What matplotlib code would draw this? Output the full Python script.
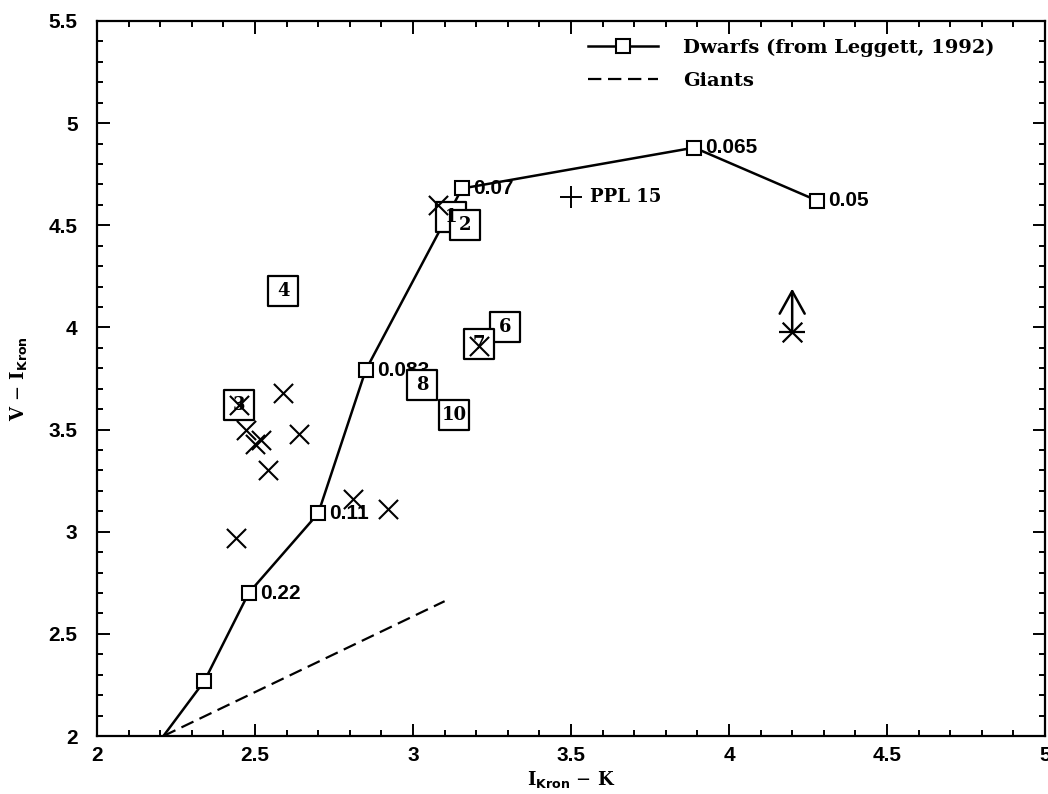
import matplotlib
matplotlib.use('Agg')
import matplotlib.pyplot as plt
from matplotlib.ticker import MultipleLocator, FormatStrFormatter

# Dwarf sequence (Leggett 1992); first point is where the line meets the axis
dwarf_x = [2.21, 2.34, 2.48, 2.70, 2.85, 3.155, 3.89, 4.28]
dwarf_y = [2.00, 2.27, 2.70, 3.09, 3.79, 4.68, 4.88, 4.62]
dwarf_mass = ['', '', '0.22', '0.11', '0.083', '0.07', '0.065', '0.05']

# Giant sequence
giant_x = [2.21, 3.10]
giant_y = [2.00, 2.66]

# Crosses
cross_x = [3.08, 2.45, 2.47, 2.50, 2.52, 2.54, 2.59, 2.64, 2.44, 2.81, 2.92, 3.21]
cross_y = [4.60, 3.62, 3.50, 3.43, 3.45, 3.30, 3.68, 3.48, 2.97, 3.16, 3.11, 3.91]

# Numbered boxes
box_x = [3.12, 3.165, 2.45, 2.59, 3.29, 3.21, 3.03, 3.13]
box_y = [4.54, 4.50, 3.62, 4.18, 4.00, 3.92, 3.72, 3.57]
box_lab = ['1', '2', '3', '4', '6', '7', '8', '10']

# PPL 15
ppl_x, ppl_y = 3.50, 4.64

# lower-limit point
lim_x, lim_y, lim_top = 4.20, 3.98, 4.19

sans = 'Liberation Sans'
serif = 'DejaVu Serif'

fig = plt.figure(figsize=(10.48, 7.94), dpi=100)
ax = fig.add_axes([0.0926, 0.073, 0.9045, 0.9006])

ax.plot(dwarf_x, dwarf_y, '-', color='black', lw=1.8, marker='s', ms=10.5,
        mfc='white', mec='black', mew=1.5, markevery=slice(1, None),
        label='Dwarfs (from Leggett, 1992)', zorder=3)
for x, y, m in zip(dwarf_x, dwarf_y, dwarf_mass):
    if m:
        ax.annotate(m, (x, y), xytext=(8, 0), textcoords='offset points',
                    va='center', ha='left', fontsize=15, fontweight='bold',
                    family=sans, zorder=4)

ax.plot(giant_x, giant_y, '--', color='black', lw=1.6, dashes=(6, 3),
        label='Giants')

ax.scatter(cross_x, cross_y, marker='x', s=190, color='black', lw=1.5, zorder=5)

ax.scatter(box_x, box_y, marker='s', s=480, facecolor='white',
           edgecolor='black', lw=1.6, zorder=4)
for x, y, t in zip(box_x, box_y, box_lab):
    ax.text(x, y, t, ha='center', va='center', fontsize=13, fontweight='bold',
            family=serif, zorder=4)

ax.scatter([ppl_x], [ppl_y], marker='+', s=260, color='black', lw=1.4, zorder=5)
ax.annotate('PPL 15', (ppl_x, ppl_y), xytext=(14, 0), textcoords='offset points',
            va='center', ha='left', fontsize=13, fontweight='bold', family=serif)

# asterisk = horizontal bar + cross, with an upward arrow (lower limit)
ax.scatter([lim_x], [lim_y], marker='_', s=330, color='black', lw=1.6, zorder=5)
ax.scatter([lim_x], [lim_y], marker='x', s=200, color='black', lw=1.6, zorder=5)
ax.annotate('', xy=(lim_x, lim_top), xytext=(lim_x, lim_y),
            arrowprops=dict(arrowstyle='->,head_length=0.9,head_width=0.5',
                            color='black', lw=1.8, mutation_scale=18,
                            shrinkA=0, shrinkB=0))

ax.set_xlim(2, 5)
ax.set_ylim(2, 5.5)
ax.xaxis.set_major_locator(MultipleLocator(0.5))
ax.xaxis.set_minor_locator(MultipleLocator(0.1))
ax.yaxis.set_major_locator(MultipleLocator(0.5))
ax.yaxis.set_minor_locator(MultipleLocator(0.1))
ax.xaxis.set_major_formatter(FormatStrFormatter('%g'))
ax.yaxis.set_major_formatter(FormatStrFormatter('%g'))
ax.tick_params(which='both', direction='in', top=True, right=True, width=1.4)
ax.tick_params(which='major', length=9, pad=7)
ax.tick_params(which='minor', length=4.5)
ax.tick_params(axis='y', which='major', pad=14)
for lab in ax.get_xticklabels() + ax.get_yticklabels():
    lab.set_fontfamily(sans)
    lab.set_fontweight('bold')
    lab.set_fontsize(15)
for sp in ax.spines.values():
    sp.set_linewidth(1.6)

ax.set_xlabel(r'I$_{\mathbf{Kron}}$ $-$ K', fontsize=13, fontweight='bold',
              family=serif, labelpad=3)
ax.set_ylabel(r'V $-$ I$_{\mathbf{Kron}}$', fontsize=13, fontweight='bold',
              family=serif, labelpad=14)

ax.legend(loc='upper right', bbox_to_anchor=(0.965, 1.0), frameon=False,
          handlelength=3.6, numpoints=1, labelspacing=0.8, handletextpad=1.3,
          prop=dict(family=serif, weight='bold', size=14))

plt.savefig('out.png', dpi=100)
